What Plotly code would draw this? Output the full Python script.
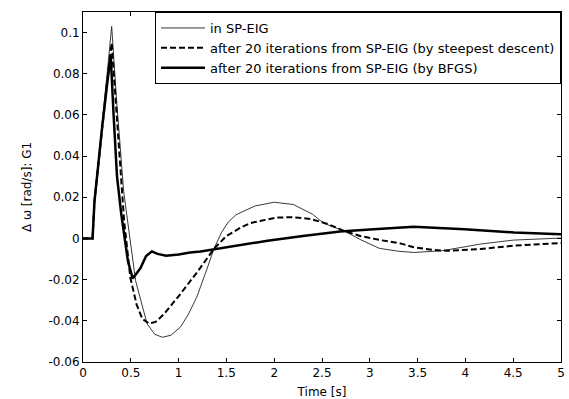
import plotly.graph_objects as go

# ---- data ----
t_sp = [0, 0.1, 0.12, 0.15, 0.2, 0.25, 0.3, 0.35, 0.425, 0.55, 0.67, 0.75, 0.83, 0.92,
        1.02, 1.1, 1.19, 1.28, 1.37, 1.45, 1.52, 1.6, 1.8, 2.0, 2.2, 2.4, 2.52, 2.73, 2.9,
        3.1, 3.3, 3.46, 3.75, 4.0, 4.16, 4.5, 5.0]
v_sp = [0, 0, 0.018, 0.033, 0.056, 0.079, 0.103, 0.068, 0.023, -0.0205, -0.0414, -0.0465,
        -0.048, -0.047, -0.043, -0.037, -0.0285, -0.017, -0.005, 0.003, 0.008, 0.0115,
        0.0158, 0.0176, 0.0165, 0.0118, 0.0073, 0.0037, -0.0005, -0.0048, -0.0062, -0.0068,
        -0.006, -0.004, -0.0027, -0.0008, 0.0002]

t_sd = [0, 0.1, 0.12, 0.15, 0.2, 0.25, 0.3, 0.35, 0.41, 0.43, 0.495, 0.56, 0.62, 0.69,
        0.76, 0.85, 1.02, 1.2, 1.37, 1.5, 1.65, 1.75, 2.03, 2.2, 2.38, 2.55, 2.73, 2.9,
        3.11, 3.32, 3.46, 3.65, 3.81, 4.16, 4.51, 5.0]
v_sd = [0, 0, 0.018, 0.032, 0.054, 0.075, 0.095, 0.062, 0.023, 0.0086, -0.019, -0.032,
        -0.039, -0.0413, -0.0405, -0.0366, -0.0269, -0.016, -0.005, 0.0012, 0.0053, 0.0075,
        0.0102, 0.0103, 0.0095, 0.0072, 0.0037, 0.0012, -0.0008, -0.0024, -0.0043, -0.0055,
        -0.006, -0.0051, -0.0035, -0.0022]

t_bf = [0, 0.1, 0.12, 0.15, 0.2, 0.25, 0.29, 0.32, 0.356, 0.40, 0.44, 0.47, 0.52, 0.6,
        0.66, 0.72, 0.78, 0.87, 1.0, 1.12, 1.23, 1.385, 1.65, 1.93, 2.3, 2.69, 3.04, 3.46,
        3.99, 4.51, 5.0]
v_bf = [0, 0, 0.018, 0.032, 0.054, 0.074, 0.089, 0.06, 0.03, 0.012, 0.0, -0.011, -0.0195,
        -0.0145, -0.0085, -0.0063, -0.0075, -0.0084, -0.0078, -0.0068, -0.0063, -0.0051,
        -0.0032, -0.0011, 0.0012, 0.0034, 0.0045, 0.0057, 0.0045, 0.0029, 0.0021]

names = ["in SP-EIG",
         "after 20 iterations from SP-EIG (by steepest descent)",
         "after 20 iterations from SP-EIG (by BFGS)"]

x_ticks = [0, 0.5, 1, 1.5, 2, 2.5, 3, 3.5, 4, 4.5, 5]
x_labels = ["0", "0.5", "1", "1.5", "2", "2.5", "3", "3.5", "4", "4.5", "5"]
y_ticks = [-0.06, -0.04, -0.02, 0, 0.02, 0.04, 0.06, 0.08, 0.1]
y_labels = ["-0.06", "-0.04", "-0.02", "0", "0.02", "0.04", "0.06", "0.08", "0.1"]

FONT = "DejaVu Sans"

fig = go.Figure()
fig.add_trace(go.Scatter(x=t_sp, y=v_sp, mode="lines", name=names[0],
                         line=dict(color="#222222", width=0.9)))
fig.add_trace(go.Scatter(x=t_sd, y=v_sd, mode="lines", name=names[1],
                         line=dict(color="black", width=2, dash="6px,3px")))
fig.add_trace(go.Scatter(x=t_bf, y=v_bf, mode="lines", name=names[2],
                         line=dict(color="black", width=2.5)))

axis_common = dict(showline=True, linecolor="black", linewidth=1, mirror="ticks",
                   ticks="inside", ticklen=4, tickcolor="black", showgrid=False,
                   zeroline=False, automargin=False,
                   tickfont=dict(family=FONT, size=12, color="black"))

fig.update_layout(
    width=569, height=399,
    margin=dict(l=83, r=8, t=12, b=37),
    paper_bgcolor="white", plot_bgcolor="white",
    font=dict(family=FONT, size=12, color="black"),
    xaxis=dict(range=[0, 5], tickvals=x_ticks, ticktext=x_labels,
               title=dict(text="Time [s]", font=dict(family=FONT, size=12), standoff=8),
               **axis_common),
    yaxis=dict(range=[-0.06, 0.11], tickvals=y_ticks, ticktext=y_labels,
               title=dict(text="Δ ω [rad/s]: G1", font=dict(family=FONT, size=12), standoff=14),
               **axis_common),
    legend=dict(x=1, y=1, xanchor="right", yanchor="top",
                bgcolor="white", bordercolor="black", borderwidth=1,
                font=dict(family=FONT, size=13, color="black"),
                itemwidth=44, tracegroupgap=0),
    showlegend=True,
)

fig.write_html("out.html")
